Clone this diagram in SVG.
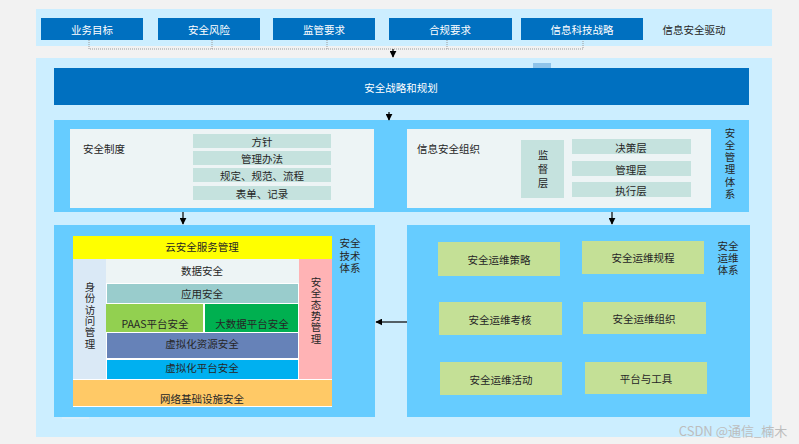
<svg xmlns="http://www.w3.org/2000/svg" width="799" height="444" viewBox="0 0 799 444">
<style>
text{font-family:"Noto Sans CJK SC","Liberation Sans",sans-serif;font-size:10.5px;fill:#262626;text-anchor:middle;dominant-baseline:central}
.w{fill:#ffffff}
.l{text-anchor:start}
.v{writing-mode:vertical-rl;text-anchor:start;letter-spacing:1.2px}
.drv{fill:#0070c0}
.band{fill:#cceeff}
.mid{fill:#66ccff}
.inner{fill:#edf4f5}
.item{fill:#c5e2de}
.ops{fill:#c4e096}
.dot{stroke:#9a9a9a;stroke-width:1;stroke-dasharray:1 1;fill:none}
.ln{stroke:#000;stroke-width:1.2;fill:none}
</style>
<defs>
<marker id="ah" viewBox="0 0 10 10" refX="9" refY="5" markerWidth="7" markerHeight="7" orient="auto" markerUnits="userSpaceOnUse"><path d="M0,0L10,5L0,10z" fill="#000"/></marker>
</defs>
<rect x="0" y="0" width="799" height="444" fill="#f2f2f2"/>

<g id="drivers">
<rect class="band" x="36" y="9" width="736" height="37"/>
<g id="n-yewu"><rect class="drv" x="41" y="18" width="102" height="22"/><text class="w" x="92" y="29">业务目标</text></g>
<g id="n-fengxian"><rect class="drv" x="158" y="18" width="102" height="22"/><text class="w" x="209" y="29">安全风险</text></g>
<g id="n-jianguan"><rect class="drv" x="273" y="18" width="102" height="22"/><text class="w" x="324" y="29">监管要求</text></g>
<g id="n-hegui"><rect class="drv" x="389" y="18" width="123" height="22"/><text class="w" x="450" y="29">合规要求</text></g>
<g id="n-keji"><rect class="drv" x="521" y="18" width="122" height="22"/><text class="w" x="582" y="29">信息科技战略</text></g>
<text x="694" y="29">信息安全驱动</text>
</g>

<rect class="band" x="36" y="58" width="736" height="379"/>
<rect x="533" y="63" width="18" height="9" fill="#8ec4ea"/>
<rect x="62" y="408" width="27" height="11" fill="#d9effb"/>

<g id="n-strategy"><rect class="drv" x="54" y="68" width="695" height="37"/><text class="w" x="401" y="87">安全战略和规划</text></g>

<g id="n-mgmt">
<rect class="mid" x="54" y="120" width="695" height="92"/>
<g id="n-zhidu">
<rect class="inner" x="70" y="129" width="304" height="79"/>
<text class="l" x="83" y="148">安全制度</text>
<rect class="item" x="193" y="134" width="138" height="14"/><text x="262" y="141">方针</text>
<rect class="item" x="193" y="151" width="138" height="14"/><text x="262" y="158">管理办法</text>
<rect class="item" x="193" y="168" width="138" height="14"/><text x="262" y="175">规定、规范、流程</text>
<rect class="item" x="193" y="186" width="138" height="14"/><text x="262" y="193">表单、记录</text>
</g>
<g id="n-zuzhi">
<rect class="inner" x="407" y="129" width="304" height="79"/>
<text class="l" x="417" y="148">信息安全组织</text>
<rect class="item" x="521" y="140" width="43" height="58"/>
<text class="v" x="543" y="150" style="letter-spacing:3.5px">监督层</text>
<rect class="item" x="572" y="139" width="119" height="15"/><text x="631" y="147">决策层</text>
<rect class="item" x="572" y="161" width="119" height="15"/><text x="631" y="169">管理层</text>
<rect class="item" x="572" y="182" width="119" height="15"/><text x="631" y="190">执行层</text>
</g>
<text class="v" x="730" y="127.5" style="letter-spacing:1.7px">安全管理体系</text>
</g>

<g id="n-tech">
<rect class="mid" x="54" y="225" width="321" height="192"/>
<rect fill="#ffffff" x="73" y="236" width="259" height="171"/>
<g id="n-cloud"><rect fill="#ffff00" x="73" y="236" width="259" height="23"/><text x="202" y="246">云安全服务管理</text></g>
<g id="n-iam"><rect fill="#dae9f6" x="73" y="259" width="33" height="120"/>
<text class="v" x="90" y="281.5" style="letter-spacing:0.9px">身份访问管理</text></g>
<g id="n-soc"><rect fill="#ffb3b5" x="299" y="259" width="33" height="120"/>
<text class="v" x="316" y="276.5" style="letter-spacing:0.9px">安全态势管理</text></g>
<g id="n-data"><rect fill="#edf4f5" x="106" y="259" width="193" height="24"/><text x="202" y="270">数据安全</text></g>
<g id="n-app"><rect fill="#99cccc" x="107" y="284" width="191" height="19"/><text x="202" y="293">应用安全</text></g>
<g id="n-paas"><rect fill="#92d050" x="106" y="304" width="97" height="28"/><text x="155" y="323">PAAS平台安全</text></g>
<g id="n-bigdata"><rect fill="#00b050" x="205" y="304" width="93" height="28"/><text x="252" y="323">大数据平台安全</text></g>
<g id="n-vres"><rect fill="#6682b8" x="107" y="333" width="191" height="25"/><text x="202" y="343">虚拟化资源安全</text></g>
<g id="n-vplat"><rect fill="#00b0f0" x="107" y="360" width="191" height="19"/><text x="202" y="367">虚拟化平台安全</text></g>
<g id="n-net"><rect fill="#ffc966" x="73" y="380" width="259" height="26"/><text x="202" y="398">网络基础设施安全</text></g>
<text x="350" y="242"><tspan x="350" y="242">安全</tspan><tspan x="350" y="255">技术</tspan><tspan x="350" y="267">体系</tspan></text>
</g>

<g id="n-ops">
<rect class="mid" x="407" y="225" width="343" height="192"/>
<g id="n-ops1"><rect class="ops" x="438" y="242" width="122" height="34"/><text x="499" y="259">安全运维策略</text></g>
<g id="n-ops2"><rect class="ops" x="582" y="241" width="122" height="33"/><text x="643" y="257">安全运维规程</text></g>
<g id="n-ops3"><rect class="ops" x="439" y="302" width="123" height="33"/><text x="500" y="319">安全运维考核</text></g>
<g id="n-ops4"><rect class="ops" x="583" y="302" width="123" height="32"/><text x="644" y="318">安全运维组织</text></g>
<g id="n-ops5"><rect class="ops" x="440" y="362" width="122" height="33"/><text x="501" y="379">安全运维活动</text></g>
<g id="n-ops6"><rect class="ops" x="585" y="362" width="122" height="32"/><text x="646" y="378">平台与工具</text></g>
<text x="728" y="245"><tspan x="728" y="245">安全</tspan><tspan x="728" y="257">运维</tspan><tspan x="728" y="269">体系</tspan></text>
</g>

<g id="connectors">
<path class="dot" d="M89,40V49H583V40M212,40V49M327,40V49M447,40V49"/>
<path class="ln" d="M393,49V57" marker-end="url(#ah)"/>
<path class="ln" d="M389,112V120" marker-end="url(#ah)"/>
<path class="ln" d="M183,212V224" marker-end="url(#ah)"/>
<path class="ln" d="M612,212V224" marker-end="url(#ah)"/>
<path class="ln" d="M407,322H376" marker-end="url(#ah)"/>
</g>

<text x="733" y="430" style="fill:#bdbdbd;font-size:13px">CSDN @通信_楠木</text>
</svg>
